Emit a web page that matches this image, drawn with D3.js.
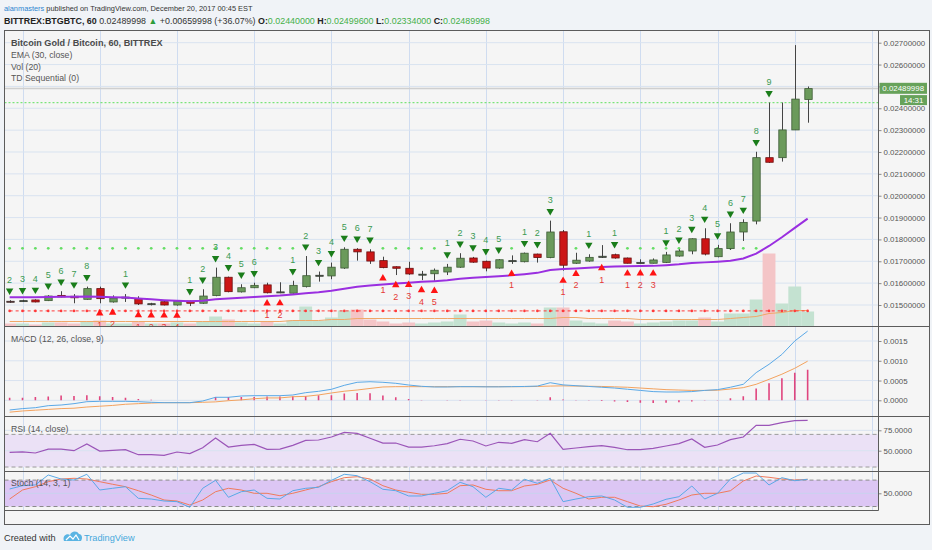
<!DOCTYPE html>
<html>
<head>
<meta charset="utf-8">
<script src="https://cdnjs.cloudflare.com/ajax/libs/d3/7.8.5/d3.min.js"></script>
<style>
html,body{margin:0;padding:0;background:#f0f3f7;}
svg{display:block;font-family:"Liberation Sans",Arial,sans-serif;}
</style>
</head>
<body>
<svg id="chart" width="932" height="550"></svg>
<script>
// ================= DATA =================
const firstBar = "2017-12-17T11:00";
const opens = [0.01517,0.01519,0.01523,0.01520,0.01544,0.01540,0.01526,0.01575,0.01514,0.01535,
0.01529,0.01505,0.01515,0.01500,0.01518,0.01508,0.01543,0.01627,0.01560,0.01579,
0.01592,0.01558,0.01554,0.01584,0.01634,0.01633,0.01669,0.01755,0.01743,0.01703,
0.01675,0.01668,0.01638,0.01643,0.01651,0.01673,0.01715,0.01700,0.01669,0.01701,
0.01698,0.01733,0.01717,0.01835,0.01691,0.01701,0.01718,0.01730,0.01715,0.01693,
0.01691,0.01695,0.01724,0.01747,0.01803,0.01721,0.01758,0.01834,0.01884,0.02174,
0.02174,0.02301,0.02440];
const highs = [0.01522,0.01524,0.01526,0.01545,0.01563,0.01550,0.01584,0.01584,0.01544,0.01550,
0.01540,0.01510,0.01518,0.01522,0.01520,0.01572,0.01671,0.01630,0.01595,0.01602,
0.01602,0.01604,0.01611,0.01724,0.01653,0.01694,0.01764,0.01760,0.01755,0.01721,
0.01677,0.01698,0.01656,0.01667,0.01688,0.01737,0.01720,0.01703,0.01710,0.01727,
0.01740,0.01735,0.01886,0.01843,0.01739,0.01732,0.01774,0.01735,0.01717,0.01709,
0.01713,0.01743,0.01755,0.01805,0.01851,0.01775,0.01874,0.01892,0.02201,0.02426,
0.02426,0.02689,0.024996];
const lows = [0.01510,0.01515,0.01512,0.01518,0.01535,0.01508,0.01524,0.01508,0.01511,0.01514,
0.01500,0.01498,0.01498,0.01497,0.01495,0.01505,0.01540,0.01558,0.01557,0.01577,
0.01553,0.01554,0.01552,0.01580,0.01607,0.01618,0.01665,0.01703,0.01688,0.01668,
0.01637,0.01638,0.01614,0.01611,0.01637,0.01670,0.01693,0.01654,0.01666,0.01688,
0.01695,0.01694,0.01714,0.01657,0.01688,0.01698,0.01715,0.01712,0.01690,0.01691,
0.01690,0.01692,0.01721,0.01732,0.01727,0.01718,0.01752,0.01793,0.01869,0.02150,
0.02156,0.02300,0.02334];
const closes = [0.01516,0.01520,0.01514,0.01541,0.01537,0.01533,0.01575,0.01529,0.01532,0.01536,
0.01505,0.01506,0.01500,0.01518,0.01508,0.01541,0.01627,0.01561,0.01579,0.01590,
0.01556,0.01560,0.01590,0.01634,0.01636,0.01673,0.01755,0.01743,0.01701,0.01671,
0.01668,0.01642,0.01641,0.01659,0.01673,0.01714,0.01696,0.01669,0.01707,0.01703,
0.01737,0.01717,0.01834,0.01682,0.01705,0.01718,0.01723,0.01715,0.01691,0.01694,
0.01706,0.01729,0.01747,0.01803,0.01733,0.01758,0.01834,0.01878,0.02174,0.02153,
0.02301,0.02442,0.02489998];
const volumes = [3,3,2,4,4,3,5,6,3,3, 5,3,3,4,3,5,10,7,4,3, 5,3,6,20,6,9,16,17,7,5,
3,4,3,4,5,12,5,6,4,3, 4,3,19,19,6,4,3,6,5,3, 4,5,6,6,9,5,13,13,27,73, 23,40,15];
const volumeMA = [5,5,5,5,5,5,5,5,5,5, 5,5,5,5,5,5,5,5,5,5, 5,5,6,6,6,7,7,8,8,8,
8,8,8,8,8,8,8,8,8,8, 8,8,8,9,9,8,8,8,8,7, 7,7,7,7,7,7,8,9,10,13, 14,16,16];
const ema30 = [0.01535,0.01535,0.01536,0.01537,0.01538,0.01538,0.01539,0.01538,0.01536,0.01534,
0.01530,0.01526,0.01522,0.01519,0.01517,0.01520,0.01526,0.01530,0.01533,0.01537,
0.01540,0.01543,0.01548,0.01554,0.01558,0.01565,0.01574,0.01583,0.01589,0.01594,
0.01598,0.01602,0.01606,0.01609,0.01613,0.01620,0.01625,0.01628,0.01632,0.01636,
0.01641,0.01647,0.01660,0.01665,0.01667,0.01670,0.01674,0.01676,0.01677,0.01678,
0.01679,0.01682,0.01686,0.01692,0.01695,0.01698,0.01702,0.01713,0.01735,0.01770,
0.01810,0.01853,0.01895];
const macdLine = [-0.000245,-0.00021,-0.000187,-0.000136,-0.000119,-0.000085,-0.000035,-0.000026,-0.000026,-0.000026,
-0.000035,-0.00005,-0.00006,-0.00006,-0.00006,-0.000018,0.000076,0.000076,0.000109,0.000117,
0.000117,0.000117,0.000134,0.000193,0.000227,0.000278,0.000379,0.000455,0.00047,0.000455,
0.00043,0.000387,0.000354,0.000337,0.000337,0.000345,0.000345,0.00034,0.00034,0.000345,
0.00035,0.00036,0.000445,0.00039,0.00037,0.00035,0.00033,0.00031,0.00028,0.00025,
0.00022,0.00021,0.00021,0.00022,0.00025,0.00027,0.00033,0.000405,0.0007,0.00091,
0.00116,0.0015,0.00175];
const signalLine = [-0.0003,-0.00027,-0.00025,-0.00023,-0.00021,-0.0002,-0.00017,-0.00015,-0.00013,-0.0001,
-0.000085,-0.00007,-0.00006,-0.00006,-0.00006,-0.00005,-0.00004,-0.00001,0.00001,0.00004,
0.00006,0.00006,0.00009,0.0001,0.000135,0.000185,0.00023,0.00026,0.0003,0.000337,
0.000345,0.000345,0.000345,0.000345,0.000345,0.000345,0.000345,0.000345,0.000345,0.000345,
0.000345,0.00035,0.00036,0.000365,0.00036,0.000355,0.00035,0.00034,0.00033,0.00031,
0.00029,0.00027,0.00026,0.00025,0.00025,0.000255,0.000285,0.00032,0.000405,0.00053,
0.00066,0.00081,0.00099];
const macdHist = [0.000067,0.000067,0.000084,0.000093,0.00012,0.00011,0.000126,0.0001,0.000084,0.000067,
0.000034,0.000017,0.000003,0.000003,0.000003,0.000003,0.000084,0.000084,0.000084,0.000084,
0.000093,0.000093,0.0001,0.00011,0.000126,0.000126,0.00017,0.000185,0.000177,0.00012,
0.000076,0.000034,0.000008,0.000003,-0.000008,-0.000008,0.000003,-0.000005,-0.000005,-0.000005,
0.000003,0.00001,0.00008,0.00002,0.00001,-0.000005,-0.00002,-0.00003,-0.00004,-0.00006,
-0.00007,-0.00006,-0.00005,-0.00003,-0.000005,0.00001,0.00005,0.0001,0.0003,0.00043,
0.00056,0.0007,0.00077];
const rsi = [48,48.5,47.2,52,52,50,58.2,49.6,50.4,51.2,
45.1,45.1,44.3,48.4,46.4,53.7,65.6,54.5,56.6,57.8,
51.7,52,56.6,62.7,63.1,66.8,72.5,71.3,65.2,59.4,
59.4,54.5,54.5,56.1,58.6,64,61.9,55.8,60.3,59.1,
63.5,61,71.3,51.7,53.3,54.9,56.1,54.1,51.2,51.2,
52.9,55.8,58.6,64.3,54.1,57,63.5,66.8,81.1,81.1,
84.3,86.8,87.2];
const stochK = [59.8,67.3,69,91.6,82.5,80.2,93.2,57.5,61.4,65,
38.6,37,32.5,31,18.2,61.4,79.5,40.9,53.6,57.5,
38.6,37,55.9,61.4,63.6,79.5,93.2,90,76.4,59.1,
55.9,43.9,43.9,50,55.9,75,65,40.9,61.4,57.5,
81.8,72.7,84.1,31,37,42.3,43.9,34.8,18.2,18.2,
25.7,36.4,42.3,66.6,37,50,82.5,96.1,96.1,68.9,
85.5,78.6,81.8];
const stochD = [37,57.5,65,76.4,82.5,84.1,82.5,76.4,70.5,65,
55.9,46.1,34.8,32.5,23.4,34.8,53.6,61.4,57.5,50,
50,44.5,50,57.5,65,76.4,85.5,87.7,82.5,67.3,
57.5,52.3,47.7,47.7,50,67.3,68.9,59.1,55.9,55.9,
66.6,70.5,80.2,61.4,50,37,40.9,40.9,31,21.1,
19.5,25,34.8,46.1,50,50,55.9,78,89.3,86.4,
82.5,80.2,81.8];
// TD Sequential: [bar index, count]
const tdSell = [[0,2],[1,3],[2,4],[3,5],[4,6],[5,7],[6,8],[9,1],[14,1],[15,2],[16,3],[17,4],[18,5],[19,6],
[22,1],[23,2],[24,3],[25,4],[26,5],[27,6],[28,7],[34,1],[35,2],[36,3],[37,4],[38,5],[40,1],[41,2],[42,3],
[45,1],[47,1],[51,1],[52,2],[53,3],[54,4],[55,5],[56,6],[57,7],[58,8],[59,9]];
const tdBuy = [[7,1],[8,2],[10,1],[11,2],[12,3],[13,4],[20,1],[21,2],[29,1],[30,2],[31,3],[32,4],[33,5],
[39,1],[43,1],[44,2],[46,1],[48,1],[49,2],[50,3]];
const tdResistBars = [0,1,2,3,4,5,6,7,8,9,10,11,12,13,14,15,16,17,18,19,20,21,22,29,30,31,32,33,39,44,
48,49,50,51,52,53,54,55,56,57,58];
const tdResistLevel = 0.017595;
const tdSupportLevel = 0.01473;
const tdSetupHigh = 0.024255;
const lastPrice = 0.02489998;
const priceTicks = [0.015,0.016,0.017,0.018,0.019,0.020,0.021,0.022,0.023,0.024,0.025,0.026,0.027];
const macdTicks = [0,0.0005,0.001,0.0015];
const rsiTicks = [50,75];
const stochTicks = [50];
const timeTicks = ["2017-12-17T12:00","2017-12-17T18:00","2017-12-18T00:00","2017-12-18T06:00","2017-12-18T12:00",
"2017-12-18T18:00","2017-12-19T00:00","2017-12-19T06:00","2017-12-19T12:00","2017-12-19T18:00","2017-12-20T00:00","2017-12-20T06:00"];
const timeLabels = ["12:00","18:00","18","06:00","12:00","18:00","19","06:00","12:00","18:00","20","06:00"];

// ================= LAYOUT =================
const svg = d3.select("#chart");
const FL = 4.5, FT = 30.5, FR = 929.5, FB = 524.5, PR = 878.5;
const pMain = [FT, 326.5], pMacd = [326.5, 416.5], pRsi = [416.5, 471.5], pSto = [471.5, 510.5];
const C = {bg:"#f5f5f5", grid:"#d9e3f0", vgrid:"#cfdcf0", frame:"#5c5c5c", axisText:"#555",
  up:"#6b9a5b", down:"#cc1616", blue:"#5aa8e6", orange:"#f3a25e"};

const parse = d3.timeParse("%Y-%m-%dT%H:%M");
const t0 = parse(firstBar);
const n = closes.length;
const bars = d3.range(n).map(i => ({i, t: d3.timeHour.offset(t0, i), o: opens[i], h: highs[i], l: lows[i], c: closes[i]}));
const x = d3.scaleTime().domain([parse("2017-12-17T12:00"), parse("2017-12-20T06:00")]).range([22.5, 872]);
const xb = i => x(bars[i].t);
const yP = d3.scaleLinear().domain([0.015, 0.027]).range([305, 42.7]);
const yV = d3.scaleLinear().domain([0, 80]).range([pMain[1], pMain[1] - 80]);
const yM = d3.scaleLinear().domain([0, 0.0015]).range([400.3, 341]);
const yR = d3.scaleLinear().domain([50, 75]).range([450.7, 430.3]);
const yS = d3.scaleLinear().domain([20, 80]).range([506.5, 480.1]);

// background
svg.append("rect").attr("width", 932).attr("height", 550).attr("fill", "#f0f3f7");
svg.append("rect").attr("x", FL).attr("y", FT).attr("width", FR - FL).attr("height", FB - FT).attr("fill", C.bg);

// clip paths
const defs = svg.append("defs");
function clip(id, y0, y1) {
  defs.append("clipPath").attr("id", id).append("rect").attr("x", FL).attr("y", y0).attr("width", PR - FL).attr("height", y1 - y0);
  return svg.append("g").attr("clip-path", `url(#${id})`);
}
defs.append("clipPath").attr("id", "cT").append("rect").attr("x", FL).attr("y", 510).attr("width", PR - FL).attr("height", 14);

// vertical grid across all panes
const tickDates = timeTicks.map(parse);
svg.append("g").selectAll("line").data(tickDates).join("line")
  .attr("x1", d => Math.round(x(d)) + 0.5).attr("x2", d => Math.round(x(d)) + 0.5)
  .attr("y1", FT).attr("y2", pSto[1]).attr("stroke", C.vgrid).attr("stroke-width", 1);

// ================= MAIN PANE =================
const gM = clip("cM", pMain[0], pMain[1]);
gM.selectAll(".hg").data(priceTicks).join("line").attr("class", "hg")
  .attr("x1", FL).attr("x2", PR).attr("y1", d => yP(d)).attr("y2", d => yP(d))
  .attr("stroke", C.grid).attr("stroke-width", 1);
// last price line
gM.append("line").attr("x1", FL).attr("x2", PR).attr("y1", yP(lastPrice)).attr("y2", yP(lastPrice))
  .attr("stroke", "#cfcfcf").attr("stroke-width", 1.5);
// volume
const bw = x(d3.timeHour.offset(t0, 1)) - x(t0);
gM.selectAll(".vol").data(bars).join("rect").attr("class", "vol")
  .attr("x", d => xb(d.i) - bw / 2).attr("width", bw)
  .attr("y", d => yV(volumes[d.i])).attr("height", d => yV(0) - yV(volumes[d.i]))
  .attr("fill", d => d.c >= d.o ? "#c4e2d1" : "#f4c5c7");
gM.append("path").datum(bars).attr("fill", "none").attr("stroke", "#f0a868").attr("stroke-width", 1)
  .attr("d", d3.line().x(d => xb(d.i)).y(d => yV(volumeMA[d.i])));
// TD resistance dots
gM.selectAll(".rd").data(tdResistBars).join("circle").attr("class", "rd")
  .attr("cx", i => xb(i)).attr("cy", yP(tdResistLevel)).attr("r", 1.4).attr("fill", "#66dd66");
// TD support dash-dot line
gM.append("line").attr("x1", xb(0)).attr("x2", xb(n - 1)).attr("y1", yP(tdSupportLevel)).attr("y2", yP(tdSupportLevel))
  .attr("stroke", "#ff3a3a").attr("stroke-width", 1).attr("stroke-dasharray", "3,3");
gM.selectAll(".sd").data(bars).join("circle").attr("class", "sd")
  .attr("cx", d => xb(d.i)).attr("cy", yP(tdSupportLevel)).attr("r", 1.3).attr("fill", "#ff3a3a");
// setup high dashed line
gM.append("line").attr("x1", FL).attr("x2", PR).attr("y1", yP(tdSetupHigh)).attr("y2", yP(tdSetupHigh))
  .attr("stroke", "#5ee05e").attr("stroke-width", 1).attr("stroke-dasharray", "2,2");
// candles
const cg = gM.append("g");
cg.selectAll(".wick").data(bars).join("line").attr("class", "wick")
  .attr("x1", d => Math.round(xb(d.i)) + 0.5).attr("x2", d => Math.round(xb(d.i)) + 0.5)
  .attr("y1", d => yP(d.h)).attr("y2", d => yP(d.l)).attr("stroke", "#444").attr("stroke-width", 1);
cg.selectAll(".body").data(bars).join("rect").attr("class", "body")
  .attr("x", d => Math.round(xb(d.i)) + 0.5 - 3.7).attr("width", 7.4)
  .attr("y", d => yP(Math.max(d.o, d.c)))
  .attr("height", d => Math.max(1, Math.abs(yP(d.o) - yP(d.c))))
  .attr("fill", d => d.c >= d.o ? C.up : C.down)
  .attr("stroke", d => Math.abs(yP(d.o) - yP(d.c)) < 1.5 ? "#333" : (d.c >= d.o ? "#3d5a35" : "#6a1010"))
  .attr("stroke-width", 0.8);
// EMA
gM.append("path").datum(bars).attr("fill", "none").attr("stroke", "#9a2fe0").attr("stroke-width", 2)
  .attr("d", d3.line().x(d => xb(d.i)).y(d => yP(ema30[d.i])));
// TD markers
const triDown = d3.symbol().type(d3.symbolTriangle).size(24);
gM.selectAll(".ts").data(tdSell).join("path").attr("class", "ts").attr("d", triDown)
  .attr("transform", d => `translate(${xb(d[0])},${yP(highs[d[0]]) - 9.5}) rotate(180)`).attr("fill", "#1a7d1a");
gM.selectAll(".tsn").data(tdSell).join("text").attr("class", "tsn")
  .attr("x", d => xb(d[0])).attr("y", d => yP(highs[d[0]]) - 17.5).attr("text-anchor", "middle")
  .attr("font-size", 9).attr("fill", "#3a9a52").text(d => d[1]);
gM.selectAll(".tb").data(tdBuy).join("path").attr("class", "tb").attr("d", triDown)
  .attr("transform", d => `translate(${xb(d[0])},${yP(lows[d[0]]) + 10})`).attr("fill", "#ff1414");
gM.selectAll(".tbn").data(tdBuy).join("text").attr("class", "tbn")
  .attr("x", d => xb(d[0])).attr("y", d => yP(lows[d[0]]) + 24.5).attr("text-anchor", "middle")
  .attr("font-size", 9).attr("fill", "#e53935").text(d => d[1]);
// legend
const leg = svg.append("g").attr("font-size", 8.7).attr("fill", "#555");
leg.append("text").attr("x", 11).attr("y", 46.3).attr("font-size", 9.1).attr("font-weight", "bold").attr("fill", "#4a4a4a").text("Bitcoin Gold / Bitcoin, 60, BITTREX");
leg.append("text").attr("x", 11).attr("y", 58).text("EMA (30, close)");
leg.append("text").attr("x", 11).attr("y", 69.8).text("Vol (20)");
leg.append("text").attr("x", 11).attr("y", 81.3).text("TD Sequential (0)");

// ================= MACD =================
const gMa = clip("cMa", pMacd[0], pMacd[1]);
gMa.selectAll("line.hg").data(macdTicks).join("line").attr("class", "hg")
  .attr("x1", FL).attr("x2", PR).attr("y1", d => yM(d)).attr("y2", d => yM(d)).attr("stroke", C.grid);
gMa.selectAll(".hb").data(bars).join("line").attr("class", "hb")
  .attr("x1", d => xb(d.i)).attr("x2", d => xb(d.i))
  .attr("y1", yM(0)).attr("y2", d => yM(macdHist[d.i]))
  .attr("stroke", "#e0457e").attr("stroke-width", 1.6);
gMa.append("path").datum(bars).attr("fill", "none").attr("stroke", C.orange).attr("stroke-width", 1)
  .attr("d", d3.line().x(d => xb(d.i)).y(d => yM(signalLine[d.i])));
gMa.append("path").datum(bars).attr("fill", "none").attr("stroke", C.blue).attr("stroke-width", 1)
  .attr("d", d3.line().x(d => xb(d.i)).y(d => yM(macdLine[d.i])));
svg.append("text").attr("x", 11).attr("y", 341.8).attr("font-size", 8.7).attr("fill", "#555").text("MACD (12, 26, close, 9)");

// ================= RSI =================
const gR = clip("cR", pRsi[0], pRsi[1]);
gR.append("rect").attr("x", FL).attr("width", PR - FL).attr("y", yR(70)).attr("height", yR(30) - yR(70)).attr("fill", "#ebe1f6");
gR.selectAll("line.hg").data(rsiTicks).join("line").attr("class", "hg")
  .attr("x1", FL).attr("x2", PR).attr("y1", d => yR(d)).attr("y2", d => yR(d)).attr("stroke", C.grid);
gR.selectAll("line.bd").data([70, 30]).join("line").attr("class", "bd")
  .attr("x1", FL).attr("x2", PR).attr("y1", d => yR(d)).attr("y2", d => yR(d))
  .attr("stroke", "#9a9a9a").attr("stroke-dasharray", "4,3");
gR.append("path").datum(bars).attr("fill", "none").attr("stroke", "#9b55b8").attr("stroke-width", 1.2)
  .attr("d", d3.line().x(d => xb(d.i)).y(d => yR(rsi[d.i])));
svg.append("text").attr("x", 11).attr("y", 431.8).attr("font-size", 8.7).attr("fill", "#555").text("RSI (14, close)");

// ================= STOCH =================
const gS = clip("cS", pSto[0], pSto[1]);
gS.append("rect").attr("x", FL).attr("width", PR - FL).attr("y", yS(80)).attr("height", yS(20) - yS(80)).attr("fill", "#dcc6f4");
gS.selectAll("line.hg").data(stochTicks).join("line").attr("class", "hg")
  .attr("x1", FL).attr("x2", PR).attr("y1", d => yS(d)).attr("y2", d => yS(d)).attr("stroke", "#c9d3ee");
gS.selectAll("line.bd").data([80, 20]).join("line").attr("class", "bd")
  .attr("x1", FL).attr("x2", PR).attr("y1", d => yS(d)).attr("y2", d => yS(d))
  .attr("stroke", "#8a8a8a").attr("stroke-dasharray", "4,3");
gS.append("path").datum(bars).attr("fill", "none").attr("stroke", "#ef7a5c").attr("stroke-width", 1)
  .attr("d", d3.line().x(d => xb(d.i)).y(d => yS(stochD[d.i])));
gS.append("path").datum(bars).attr("fill", "none").attr("stroke", C.blue).attr("stroke-width", 1)
  .attr("d", d3.line().x(d => xb(d.i)).y(d => yS(stochK[d.i])));
svg.append("text").attr("x", 11).attr("y", 485.8).attr("font-size", 8.7).attr("fill", "#555").text("Stoch (14, 3, 1)");

// ================= AXES =================
function styleAxis(g) {
  g.attr("font-family", null).attr("font-size", 7.9);
  g.select(".domain").remove();
  g.selectAll("text").attr("fill", C.axisText);
  g.selectAll(".tick line").attr("stroke", "#888");
}
const f8 = d3.format(".8f");
// the label at the last-price level is covered by the price tag, as in the reference
svg.append("g").attr("transform", `translate(${PR},0)`)
  .call(d3.axisRight(yP).tickValues(priceTicks).tickFormat(d => Math.abs(yP(d) - yP(lastPrice)) < 6 ? "" : f8(d)).tickSize(3).tickPadding(2)).call(styleAxis);
svg.append("g").attr("transform", `translate(${PR},0)`)
  .call(d3.axisRight(yM).tickValues(macdTicks).tickFormat(d3.format(".4f")).tickSize(3).tickPadding(2)).call(styleAxis);
svg.append("g").attr("transform", `translate(${PR},0)`)
  .call(d3.axisRight(yR).tickValues([75, 50]).tickFormat(d3.format(".4f")).tickSize(3).tickPadding(2)).call(styleAxis);
svg.append("g").attr("transform", `translate(${PR},0)`)
  .call(d3.axisRight(yS).tickValues(stochTicks).tickFormat(d3.format(".4f")).tickSize(3).tickPadding(2)).call(styleAxis);
const gx = svg.append("g").attr("clip-path", "url(#cT)").attr("transform", `translate(0,${pSto[1]})`)
  .call(d3.axisBottom(x).tickValues(tickDates).tickFormat((d, i) => timeLabels[i]).tickSize(0).tickPadding(5));
gx.attr("font-family", null).attr("font-size", 7.7);
gx.select(".domain").remove();
gx.selectAll("text").attr("fill", C.axisText).attr("font-weight", (d, i) => timeLabels[i] === "18" ? "bold" : null);

// price tags
const tagY = yP(lastPrice);
svg.append("rect").attr("x", 879.5).attr("y", tagY - 5.8).attr("width", 47.5).attr("height", 11).attr("fill", "#67a25a");
svg.append("text").attr("x", 903.2).attr("y", tagY + 2.7).attr("text-anchor", "middle").attr("font-size", 7.9).attr("fill", "#fff").text(lastPrice.toFixed(8));
svg.append("rect").attr("x", 900).attr("y", tagY + 6.5).attr("width", 27).attr("height", 10).attr("fill", "#67a25a");
svg.append("text").attr("x", 913.5).attr("y", tagY + 14.6).attr("text-anchor", "middle").attr("font-size", 7.9).attr("fill", "#fff").text("14:31");

// ================= FRAME =================
const fr = svg.append("g").attr("stroke", C.frame).attr("stroke-width", 1).attr("fill", "none");
fr.append("rect").attr("x", FL).attr("y", FT).attr("width", FR - FL).attr("height", FB - FT);
fr.append("line").attr("x1", PR).attr("x2", PR).attr("y1", FT).attr("y2", pSto[1]);
[pMain[1], pMacd[1], pRsi[1]].forEach(yy => fr.append("line").attr("x1", FL).attr("x2", FR).attr("y1", yy).attr("y2", yy));
fr.append("line").attr("x1", FL).attr("x2", PR).attr("y1", pSto[1]).attr("y2", pSto[1]);

// ================= HEADER =================
const h1 = svg.append("text").attr("x", 4).attr("y", 10.8).attr("font-size", 7.4).attr("fill", "#333");
h1.append("tspan").attr("fill", "#2f86d0").text("alanmasters");
h1.append("tspan").text(" published on TradingView.com, December 20, 2017 00:45 EST");
const h2 = svg.append("text").attr("x", 4).attr("y", 24.2).attr("font-size", 8.9).attr("fill", "#333");
const G = "#45b04a";
[["BITTREX:BTGBTC, 60", "bold", "#222"], [" 0.02489998 ", null, "#333"], ["\u25B2", null, "#2e9d3a"],
 [" +0.00659998 (+36.07%) ", null, "#333"], ["O:", "bold", "#222"], ["0.02440000", null, G],
 [" H:", "bold", "#222"], ["0.02499600", null, G], [" L:", "bold", "#222"], ["0.02334000", null, G],
 [" C:", "bold", "#222"], ["0.02489998", null, G]].forEach(([t, w, c]) => {
  h2.append("tspan").attr("font-weight", w).attr("fill", c).text(t);
});

// ================= FOOTER =================
svg.append("text").attr("x", 4).attr("y", 541).attr("font-size", 9.2).attr("fill", "#333").text("Created with");
const logo = svg.append("g").attr("transform", "translate(63,530)");
logo.append("path").attr("d", "M1,11 C-1,6 4,3 7,5 C8,1 14,0 16,4 C19,4 20,8 18,11 Z").attr("fill", "#5ab4e3");
logo.append("path").attr("d", "M3,10 L7,6 L10,9 L13,5 L16,10").attr("fill", "none").attr("stroke", "#fff").attr("stroke-width", 1.2);
svg.append("text").attr("x", 84).attr("y", 541).attr("font-size", 9.2).attr("fill", "#45a8dc").text("TradingView");
</script>
</body>
</html>
